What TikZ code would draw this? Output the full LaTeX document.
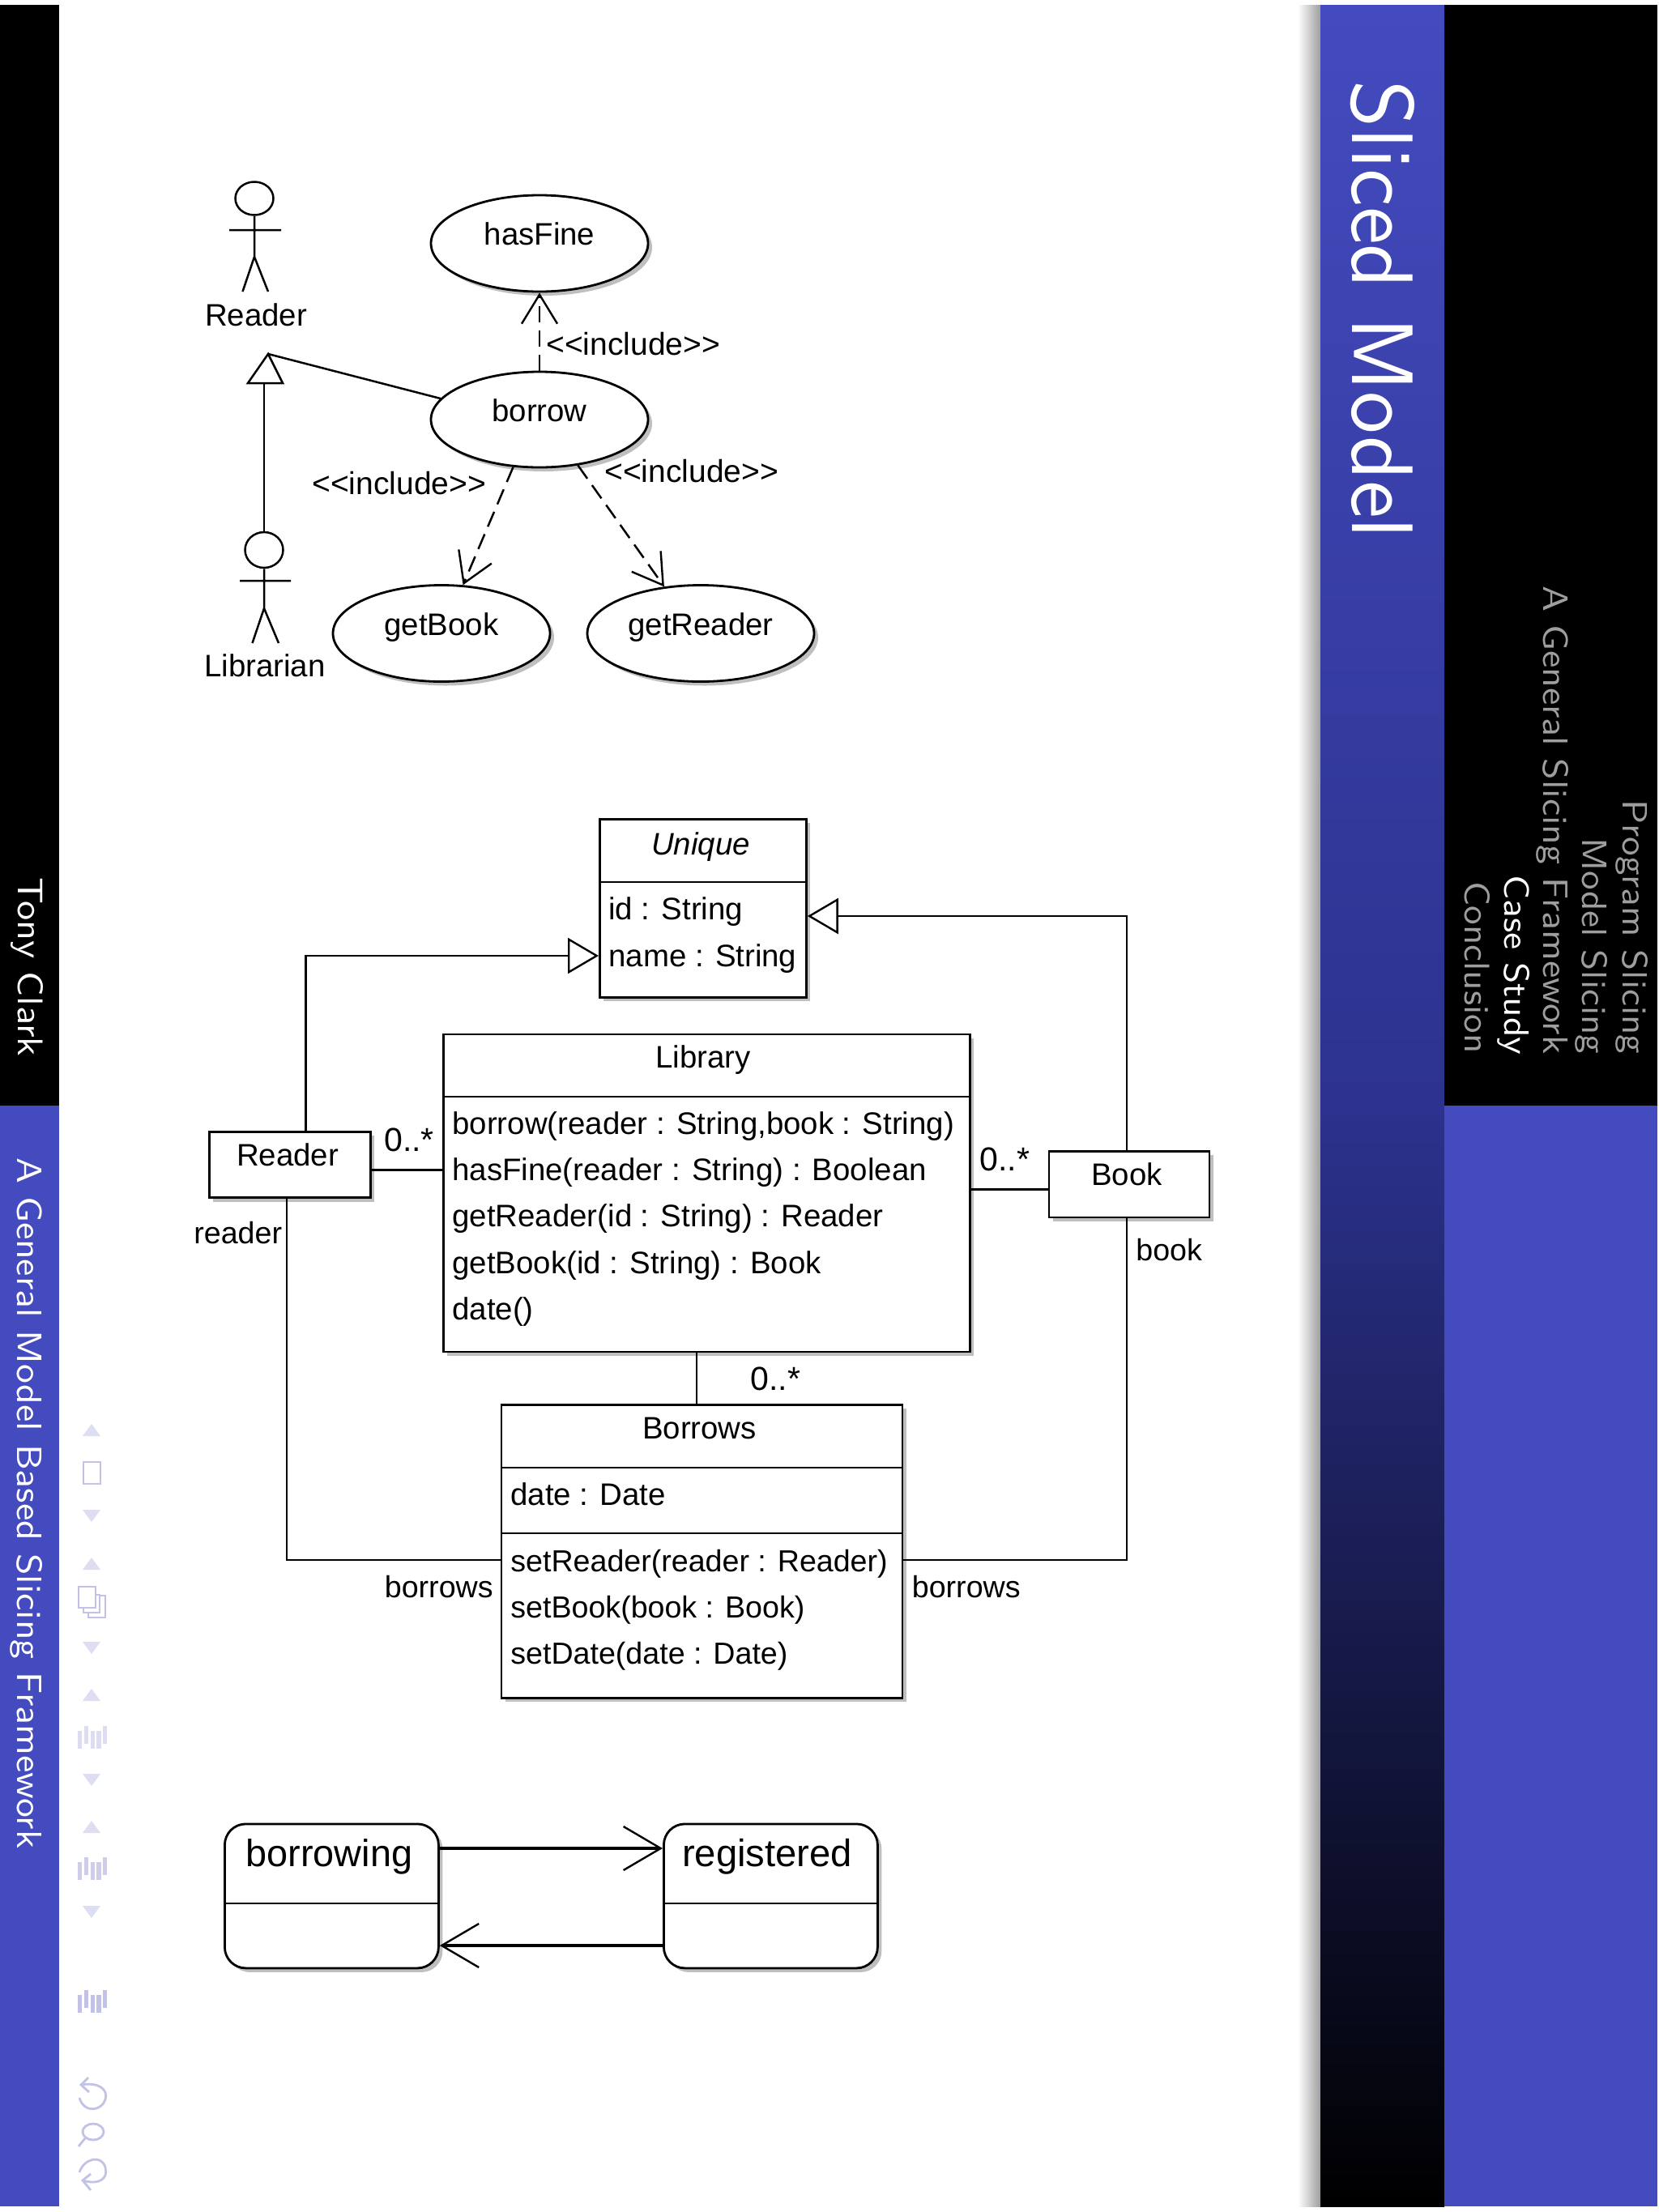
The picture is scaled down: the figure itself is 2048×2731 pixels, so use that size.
\documentclass[tikz,border=0pt]{standalone}
\usepackage{fontspec}
\usepackage{graphicx}
\setmainfont{Liberation Sans}
\usetikzlibrary{arrows.meta,shapes.geometric,shadows,calc}
\definecolor{beamblue}{RGB}{68,75,191}
\definecolor{beammid}{RGB}{44,50,142}
\definecolor{navtri}{RGB}{222,222,242}
\definecolor{navline}{RGB}{194,194,230}
\definecolor{tocgray}{RGB}{158,158,158}
\tikzset{
  umlfont/.style={font=\fontsize{19.2}{23}\selectfont},
  shad/.style={drop shadow={shadow xshift=2.5pt,shadow yshift=-2.5pt,opacity=.25,fill=black}},
  lft/.style={umlfont,anchor=base west,inner sep=0pt,text=black},
  ctr/.style={umlfont,anchor=base,inner sep=0pt,text=black},
  inclabel/.style={lft,font=\fontsize{19.5}{23}\selectfont},
  rolelabel/.style={lft,font=\fontsize{18.8}{23}\selectfont},
  ucase/.style={ellipse,draw,fill=white,shad,line width=1.4pt,inner sep=0pt,umlfont,text height=12pt,text depth=9.8pt},
  umlbox/.style={rectangle,draw,fill=white,shad,line width=1.4pt,inner sep=0pt,anchor=north west},
  statebox/.style={umlbox,rounded corners=13pt},
  sep/.style={line width=1.4pt},
  conn/.style={line width=1.25pt},
  incl/.style={conn,dash pattern=on 10pt off 5pt,-{Straight Barb[length=18pt,width=22pt,line width=1.2pt]}},
  gen/.style={conn,-{Triangle[open,length=19pt,width=22pt,line width=1.2pt]}},
  trans/.style={line width=1.6pt,-{Straight Barb[length=23pt,width=27pt,line width=1.2pt]}},
  limb/.style={line width=1.25pt},
  sidetext/.style={rotate=-90,anchor=base west,inner sep=0pt,text=white},
  navt/.style={fill=navtri,draw=none},
  navl/.style={draw=navline,line width=1.4pt},
}
\newcommand{\fitsb}[3]{\resizebox{#1}{#2}{\sffamily #3}}
\newcommand{\navup}[1]{\fill[navt] (113,#1) -- (124,#1+15) -- (102,#1+15) -- cycle;}
\newcommand{\navdn}[1]{\fill[navt] (113,#1+15) -- (124,#1) -- (102,#1) -- cycle;}
\newcommand{\navbars}[2]{%
  \foreach \xa/\off in {96/6,104/0,111.7/6,119.3/6,126.7/0}{
    \fill[navline,opacity=#2] (\xa,#1+\off) rectangle (\xa+5.2,#1+\off+22);
  }}
\begin{document}
\begin{tikzpicture}[x=0.5pt,y=-0.5pt]
\useasboundingbox (0,0) rectangle (2048,2731);
\fill[white] (0,0) rectangle (2048,2731);
% left sidebar
\fill[black] (0,6) rectangle (73,1365);
\fill[beamblue] (0,1365) rectangle (73,2724);
% right sidebar
\shade[left color=white,right color=black!38] (1602,6) rectangle (1630,2724);
\fill[top color=beamblue,bottom color=black,middle color=beammid,draw=none] (1630,6) rectangle (1783,2724);
\fill[black] (1783,6) rectangle (2046,1365);
\fill[beamblue] (1783,1365) rectangle (2046,2724);
% sidebar text
\node[sidetext] (tslide) at (1669,99.5) {\fitsb{282.5pt}{38.5pt}{Sliced Model}};
\node[sidetext,text=tocgray] (t1) at (2003,987) {\fitsb{157pt}{15.5pt}{Program Slicing}};
\node[sidetext,text=tocgray] (t2) at (1953,1034) {\fitsb{133.5pt}{15.5pt}{Model Slicing}};
\node[sidetext,text=tocgray] (t3) at (1905,723) {\fitsb{289pt}{15.5pt}{A General Slicing Framework}};
\node[sidetext] (t4) at (1857,1080) {\fitsb{111pt}{15.5pt}{Case Study}};
\node[sidetext,text=tocgray] (t5) at (1808,1088) {\fitsb{106pt}{15.5pt}{Conclusion}};
\node[sidetext] (author) at (22,1083) {\fitsb{110.5pt}{15.5pt}{Tony Clark}};
\node[sidetext] (talk) at (22,1429) {\fitsb{426.5pt}{15.5pt}{A General Model Based Slicing Framework}};
% navigation symbols
\navup{1758}\draw[navl] (103,1805) rectangle (124,1832);\navdn{1864}
\navup{1923}
\draw[navl,fill=white] (109,1970) rectangle (130,1997);
\draw[navl,fill=white] (103,1969) rectangle (123,1991);
\draw[navl,fill=white] (97,1959) rectangle (118,1985);
\navdn{2027}
\navup{2085}\navbars{2131}{.55}\navdn{2190}
\navup{2248}\navbars{2293}{.8}\navdn{2353}
\navbars{2457}{1}
\draw[navl] (109,2565) -- (100,2574) -- (110,2583);
\draw[navl] (100,2574) .. controls (122,2570) and (134,2580) .. (130,2592) .. controls (126,2606) and (104,2610) .. (98,2590);
\draw[navl] (115,2632) ellipse (13 and 10);
\draw[navl] (105,2640) -- (97,2650);
\draw[navl] (98,2682) .. controls (104,2664) and (126,2660) .. (130,2676) .. controls (134,2690) and (122,2698) .. (102,2692);
\draw[navl] (112,2684) -- (102,2692) -- (112,2704);
% actors
\node[ellipse,draw,line width=1.25pt,inner sep=0pt,minimum width=23.5pt,minimum height=20.5pt] (readerhead) at (314,245) {};
\draw[limb] (readerhead.south) -- (314,317) (283,284) -- (347,284) (299.5,360) -- (314,317) -- (331,360);
\node[ctr] (readerlabel) at (316,402) {Reader};
\node[ellipse,draw,line width=1.25pt,inner sep=0pt,minimum width=23.5pt,minimum height=22pt] (libhead) at (326,679) {};
\draw[limb] (libhead.south) -- (326,751) (296,717) -- (359,717) (311.5,794) -- (326,751) -- (344,794);
\node[ctr] (liblabel) at (327,835) {Librarian};
% use cases
\node[ucase,minimum width=134pt,minimum height=59.5pt] (hasfine) at (666,300.5) {hasFine};
\node[ucase,minimum width=134pt,minimum height=59pt] (borrow) at (666,518) {borrow};
\node[ucase,minimum width=134pt,minimum height=59.5pt] (getbook) at (545,782) {getBook};
\node[ucase,minimum width=140pt,minimum height=59.5pt] (getreader) at (865,782) {getReader};
\node[inclabel] (inc1) at (674,438) {<{}<include>{}>};
\node[inclabel] (inc2) at (385,610) {<{}<include>{}>};
\node[inclabel] (inc3) at (746,595) {<{}<include>{}>};
\draw[incl] (borrow.north -| hasfine.south) -- (hasfine.south);
\draw[incl] (borrow.-119) -- (getbook.66);
\draw[incl] (borrow.-50) -- (getreader.128);
\coordinate (genapex) at (331,437);
\coordinate (genl) at (306,473);
\coordinate (genr) at (349,473);
\draw[conn] (genapex) -- (genl) -- (genr) -- cycle;
\draw[conn] (libhead.north) -- (libhead.north |- genr);
\draw[conn] (borrow.168) -- (genapex);
% class diagram
\node[umlbox,minimum width=127.5pt,minimum height=110pt] (unique) at (739,1010) {};
\draw[sep] (unique.west |- 0,1089) -- (unique.east |- 0,1089);
\node[ctr,font=\fontsize{19.2}{23}\selectfont\itshape] (uniquet) at (865,1055) {Unique};
\node[lft] (uid) at (751,1135) {id : String};
\node[lft] (uname) at (751,1193) {name : String};
\node[umlbox,minimum width=325pt,minimum height=196pt] (library) at (546,1275.5) {};
\draw[sep] (library.west |- 0,1354) -- (library.east |- 0,1354);
\node[ctr] (libt) at (868,1318) {Library};
\node[lft] (m1) at (558,1400) {borrow(reader : String,book : String)};
\node[lft] (m2) at (558,1457) {hasFine(reader : String) : Boolean};
\node[lft] (m3) at (558,1514.5) {getReader(id : String) : Reader};
\node[lft] (m4) at (558,1572) {getBook(id : String) : Book};
\node[lft] (m5) at (558,1629) {date()};
\node[umlbox,minimum width=99.5pt,minimum height=40.7pt] (readerc) at (257,1396) {};
\node[ctr] (readerct) at (355,1439) {Reader};
\node[umlbox,minimum width=99pt,minimum height=40.8pt] (bookc) at (1293.5,1420) {};
\node[ctr] (bookct) at (1391,1463) {Book};
\node[umlbox,minimum width=247.5pt,minimum height=181pt] (borrows) at (617.5,1733) {};
\draw[sep] (borrows.west |- 0,1812) -- (borrows.east |- 0,1812);
\draw[sep] (borrows.west |- 0,1893) -- (borrows.east |- 0,1893);
\node[ctr] (borrowst) at (863.5,1776) {Borrows};
\node[lft] (bd) at (630,1858) {date : Date};
\node[lft,font=\fontsize{18.8}{23}\selectfont] (b1) at (630,1940) {setReader(reader : Reader)};
\node[lft,font=\fontsize{18.8}{23}\selectfont] (b2) at (630,1997) {setBook(book : Book)};
\node[lft,font=\fontsize{18.8}{23}\selectfont] (b3) at (630,2054) {setDate(date : Date)};
% class connectors
\coordinate (rtop) at (377.5,1180);
\coordinate (btop) at (1391,1131);
\coordinate (rlow) at (354,1926);
\coordinate (blow) at (1391,1926);
\draw[gen] (readerc.north -| rtop) -- (rtop) -- (unique.west |- rtop);
\draw[gen] (bookc.north -| btop) -- (btop) -- (unique.east |- btop);
\draw[conn] (readerc.east |- 0,1444.5) -- (library.west |- 0,1444.5);
\draw[conn] (library.east |- 0,1468.5) -- (bookc.west |- 0,1468.5);
\draw[conn] (library.south -| 860,0) -- (borrows.north -| 860,0);
\draw[conn] (readerc.south -| rlow) -- (rlow) -- (borrows.west |- rlow);
\draw[conn] (bookc.south -| blow) -- (blow) -- (borrows.east |- blow);
\node[lft,font=\fontsize{20.5}{23}\selectfont] (mul1) at (474,1421) {0..*};
\node[lft,font=\fontsize{20.5}{23}\selectfont] (mul2) at (1209,1445) {0..*};
\node[lft,font=\fontsize{20.5}{23}\selectfont] (mul3) at (926,1716) {0..*};
\node[rolelabel] (rolereader) at (239,1535.5) {reader};
\node[rolelabel] (rolebook) at (1402,1556) {book};
\node[rolelabel] (roleb1) at (474.5,1972) {borrows};
\node[rolelabel] (roleb2) at (1125.5,1972) {borrows};
% state diagram
\node[statebox,minimum width=132pt,minimum height=89pt] (sborrow) at (276,2250.5) {};
\draw[sep] (sborrow.west |- 0,2350) -- (sborrow.east |- 0,2350);
\node[ctr,font=\fontsize{23.4}{28}\selectfont] (sborrowt) at (406.5,2304) {borrowing};
\node[statebox,minimum width=132pt,minimum height=89pt] (sreg) at (818,2250.5) {};
\draw[sep] (sreg.west |- 0,2350) -- (sreg.east |- 0,2350);
\node[ctr,font=\fontsize{23.6}{28}\selectfont] (sregt) at (947,2304) {registered};
\draw[trans] (sborrow.east |- 0,2282) -- (sreg.west |- 0,2282);
\draw[trans] (sreg.west |- 0,2402) -- (sborrow.east |- 0,2402);
\end{tikzpicture}
\end{document}
